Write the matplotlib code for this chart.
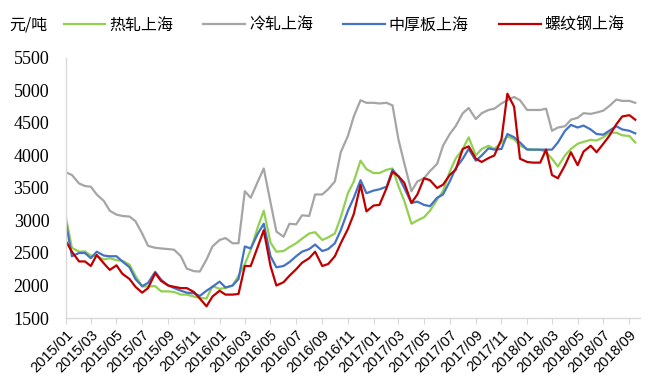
"""
Shanghai steel prices (hot rolled, cold rolled, plate, rebar), 2015-2018.
"""

import matplotlib

matplotlib.use("Agg")

import matplotlib.dates as mdates
import matplotlib.pyplot as plt
import pandas as pd

# ---------------------------------------------------------------------------
# Data (semi-monthly readings, yuan/ton)
# ---------------------------------------------------------------------------

DATES = pd.date_range("2015-01-01", periods=90, freq="SMS")

HOT_ROLLED = [
    3040, 2580, 2520, 2525, 2460, 2450, 2400, 2420, 2390, 2380,
    2320, 2150, 1985, 1985, 1990, 1910, 1910, 1900, 1860, 1860,
    1830, 1810, 1800, 1990, 1950, 1960, 2000, 2150, 2330, 2550,
    2900, 3150, 2660, 2520, 2530, 2590, 2650, 2720, 2800, 2820,
    2700, 2740, 2800, 3050, 3420, 3600, 3920, 3790, 3730, 3730,
    3780, 3800, 3530, 3300, 2950, 3000, 3050, 3150, 3320, 3450,
    3750, 3950, 4100, 4280, 4000, 4100, 4150, 4100, 4200, 4290,
    4250, 4150, 4100, 4090, 4090, 4050, 3950, 3830, 4000, 4100,
    4180, 4210, 4240, 4230, 4280, 4350, 4350, 4310, 4300, 4200,
]

COLD_ROLLED = [
    3740, 3700, 3570, 3530, 3520, 3400, 3300, 3150, 3090, 3070,
    3060, 2990, 2800, 2610, 2580, 2570, 2560, 2550, 2450, 2260,
    2220, 2215, 2400, 2600, 2700, 2730, 2650, 2650, 3450, 3350,
    3600, 3800, 3280, 2830, 2750, 2950, 2940, 3080, 3070, 3400,
    3400, 3480, 3600, 4050, 4300, 4600, 4850, 4810, 4810, 4800,
    4810, 4770, 4250, 3880, 3450, 3600, 3650, 3760, 3870, 4150,
    4330, 4450, 4650, 4730, 4560, 4650, 4700, 4720, 4800, 4850,
    4900, 4850, 4700, 4700, 4700, 4720, 4380, 4430, 4450, 4550,
    4580, 4650, 4640, 4660, 4690, 4760, 4860, 4840, 4840, 4810,
]

PLATE = [
    2960, 2450, 2500, 2500, 2420, 2520, 2460, 2450, 2450, 2370,
    2280, 2100, 1990, 2040, 2210, 2090, 2000, 1960, 1920, 1890,
    1880, 1840, 1920, 1980, 2060, 1970, 2000, 2100, 2600, 2570,
    2800, 2950, 2450, 2280, 2300, 2360, 2450, 2520, 2560, 2630,
    2530, 2560, 2650, 2850, 3150, 3350, 3620, 3420, 3460, 3480,
    3520, 3780, 3680, 3500, 3270, 3290, 3240, 3220, 3350, 3400,
    3600, 3800, 3950, 4100, 3920, 4000, 4110, 4090, 4100, 4330,
    4280, 4200, 4090, 4090, 4090, 4090, 4090, 4200, 4380, 4470,
    4430, 4460, 4400, 4330, 4320, 4380, 4450, 4400, 4380, 4340,
]

REBAR = [
    2680, 2520, 2370, 2370, 2300, 2470, 2340, 2240, 2310, 2180,
    2100, 1980, 1890, 1960, 2190, 2070, 2000, 1980, 1960, 1960,
    1900, 1800, 1680, 1830, 1920, 1860, 1860, 1870, 2300, 2300,
    2600, 2850, 2300, 2000, 2050, 2150, 2250, 2350, 2420, 2520,
    2300, 2330, 2450, 2650, 2870, 3100, 3550, 3140, 3230, 3240,
    3500, 3750, 3680, 3580, 3270, 3400, 3650, 3620, 3500, 3550,
    3700, 3780, 4100, 4140, 3950, 3900, 3960, 4000, 4250, 4950,
    4750, 3950, 3900, 3890, 3890, 4090, 3700, 3650, 3850, 4050,
    3850, 4060, 4150, 4050, 4180, 4300, 4480, 4600, 4620, 4550,
]

SERIES = [
    ("热轧上海", HOT_ROLLED, "#92D050"),
    ("冷轧上海", COLD_ROLLED, "#A5A5A5"),
    ("中厚板上海", PLATE, "#4472C4"),
    ("螺纹钢上海", REBAR, "#C00000"),
]

CJK = ["Noto Sans CJK SC", "DejaVu Sans"]
AXIS_GREY = "#D9D9D9"


def main() -> None:
    fig = plt.figure(figsize=(6.49, 3.89), dpi=100)
    ax = fig.add_axes([0.1017, 0.1825, 0.8843, 0.6685])

    handles = []
    for name, values, color in SERIES:
        (line,) = ax.plot(DATES, values, color=color, linewidth=1.6, label=name)
        handles.append(line)

    # axes
    ax.set_ylim(1500, 5500)
    ax.set_yticks(range(1500, 5501, 500))
    ax.set_xlim(pd.Timestamp("2015-01-01"), pd.Timestamp("2018-09-26"))
    ax.xaxis.set_major_locator(mdates.MonthLocator(bymonth=[1, 3, 5, 7, 9, 11]))
    ax.xaxis.set_major_formatter(mdates.DateFormatter("%Y/%m"))

    for side in ("top", "right"):
        ax.spines[side].set_visible(False)
    for side in ("left", "bottom"):
        ax.spines[side].set_color(AXIS_GREY)
        ax.spines[side].set_linewidth(1.0)

    ax.tick_params(axis="y", length=0, pad=12, labelsize=13,
                   labelcolor="#000000")
    ax.tick_params(axis="x", length=4, color=AXIS_GREY, pad=3,
                   labelsize=10.5, labelcolor="#000000")
    for lbl in ax.get_yticklabels():
        lbl.set_family("Liberation Serif")
    for lbl in ax.get_xticklabels():
        lbl.set_family("Liberation Sans")
        lbl.set_rotation(45)
        lbl.set_ha("right")
        lbl.set_rotation_mode("anchor")

    # unit label and legend
    fig.text(0.015, 0.935, "元/吨", family=CJK, fontsize=11.5,
             va="center", ha="left")
    fig.legend(
        handles=handles,
        loc="center left",
        bbox_to_anchor=(0.098, 0.935),
        ncol=4,
        frameon=False,
        prop={"family": CJK, "size": 11.5},
        handlelength=2.6,
        handletextpad=0.25,
        columnspacing=1.9,
        borderaxespad=0,
        borderpad=0,
    )

    fig.savefig("out.png", dpi=100)


if __name__ == "__main__":
    main()
